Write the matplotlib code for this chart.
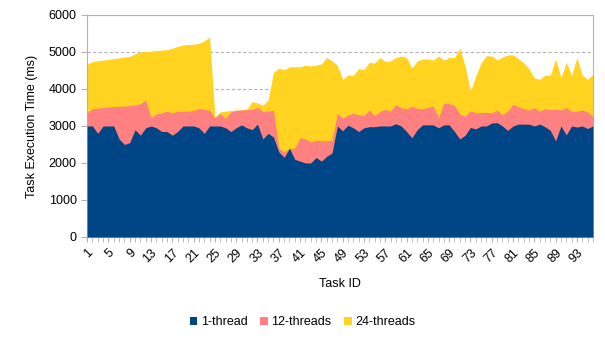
import matplotlib.pyplot as plt
import numpy as np

plt.rcParams['font.family'] = ['Liberation Sans', 'DejaVu Sans']

tasks = np.arange(1, 97)

one_thread = [
    3000, 3000, 2800, 3000, 3000, 3000, 2650, 2500, 2550, 2900,
    2750, 2950, 3000, 2950, 2850, 2850, 2750, 2850, 3000, 3000,
    3000, 2950, 2800, 3000, 3000, 3000, 2950, 2850, 2950, 3030,
    2950, 2900, 3050, 2650, 2800, 2700, 2300, 2150, 2400, 2100,
    2050, 2000, 2000, 2150, 2050, 2180, 2270, 3000, 2870, 3020,
    2950, 2850, 2950, 2980, 2980, 3000, 3000, 3000, 3060, 3000,
    2850, 2680, 2900, 3030, 3030, 3030, 2950, 3030, 3030, 2850,
    2650, 2750, 2960, 2920, 3000, 3000, 3080, 3090, 3000, 2880,
    3000, 3050, 3050, 3050, 3000, 3050, 2980, 2880, 2600, 3000,
    2760, 3000, 2970, 3000, 2930, 3000]

twelve_threads = [
    3360, 3470, 3480, 3500, 3510, 3520, 3530, 3540, 3550, 3560,
    3600, 3700, 3220, 3330, 3350, 3400, 3350, 3400, 3400, 3400,
    3420, 3470, 3450, 3420, 3220, 3330, 3200, 3380, 3420, 3430,
    3440, 3450, 3500, 3400, 3400, 3420, 2400, 2300, 2390, 2400,
    2680, 2650, 2570, 2620, 2600, 2600, 2620, 3340, 3210, 3300,
    3340, 3300, 3280, 3430, 3280, 3390, 3450, 3400, 3580, 3490,
    3460, 3530, 3480, 3460, 3500, 3540, 3230, 3620, 3600, 3560,
    3320, 3260, 3410, 3360, 3360, 3370, 3350, 3430, 3310, 3400,
    3580, 3520, 3470, 3430, 3490, 3400, 3470, 3440, 3450, 3430,
    3500, 3390, 3400, 3430, 3380, 3250]

twentyfour_threads = [
    4670, 4740, 4760, 4780, 4800, 4820, 4840, 4860, 4880, 4950,
    5000, 5010, 5020, 5040, 5050, 5060, 5100, 5150, 5190, 5200,
    5210, 5230, 5300, 5400, 3250, 3380, 3400, 3420, 3430, 3440,
    3450, 3660, 3620, 3560, 3700, 4450, 4560, 4520, 4600, 4600,
    4600, 4640, 4620, 4640, 4680, 4850, 4760, 4640, 4260, 4380,
    4370, 4550, 4520, 4720, 4700, 4850, 4740, 4760, 4850, 4890,
    4850, 4560, 4760, 4810, 4810, 4780, 4890, 4780, 4850, 4850,
    5100, 4620, 3950, 4350, 4700, 4900, 4890, 4780, 4860, 4920,
    4920, 4820, 4700, 4550, 4300, 4260, 4370, 4370, 4810, 4300,
    4720, 4370, 4850, 4370, 4260, 4400]

fig = plt.figure(figsize=(6.05, 3.4), dpi=100)
ax = fig.add_axes([0.144, 0.303, 0.836, 0.653])

ax.fill_between(tasks, twentyfour_threads, color='#ffd320', lw=0, label='24-threads', zorder=2)
ax.fill_between(tasks, twelve_threads, color='#ff8080', lw=0, label='12-threads', zorder=3)
ax.fill_between(tasks, one_thread, color='#004586', lw=0, label='1-thread', zorder=4)

ax.set_xlim(1, 96)
ax.set_ylim(0, 6000)
ax.set_yticks(range(0, 6001, 1000))
ax.yaxis.grid(True, color='#b3b3b3', ls=(0, (3, 2)), lw=0.8, zorder=1)
ax.set_axisbelow(True)

ax.set_xticks(tasks, minor=True)
ax.set_xticks(tasks[::4])
ax.set_xticklabels([str(t) for t in tasks[::4]], rotation=45, ha='right',
                   rotation_mode='anchor')
ax.tick_params(axis='x', which='both', length=3.5, color='#b3b3b3', labelsize=9)
ax.tick_params(axis='y', length=4, color='#b3b3b3', labelsize=9)

for s in ax.spines.values():
    s.set_color('#b3b3b3')
    s.set_linewidth(0.8)

ax.set_xlabel('Task ID', fontsize=9, labelpad=9.5)
ax.set_ylabel('Task Execution Time (ms)', fontsize=9, labelpad=8)

handles, labels = ax.get_legend_handles_labels()
fig.legend(handles[::-1], labels[::-1], loc='center', bbox_to_anchor=(0.5, 0.052),
           ncol=3, frameon=False, fontsize=9, handlelength=0.6, handleheight=0.6,
           handletextpad=0.3, columnspacing=1.0)

fig.savefig('out.png', dpi=100)
